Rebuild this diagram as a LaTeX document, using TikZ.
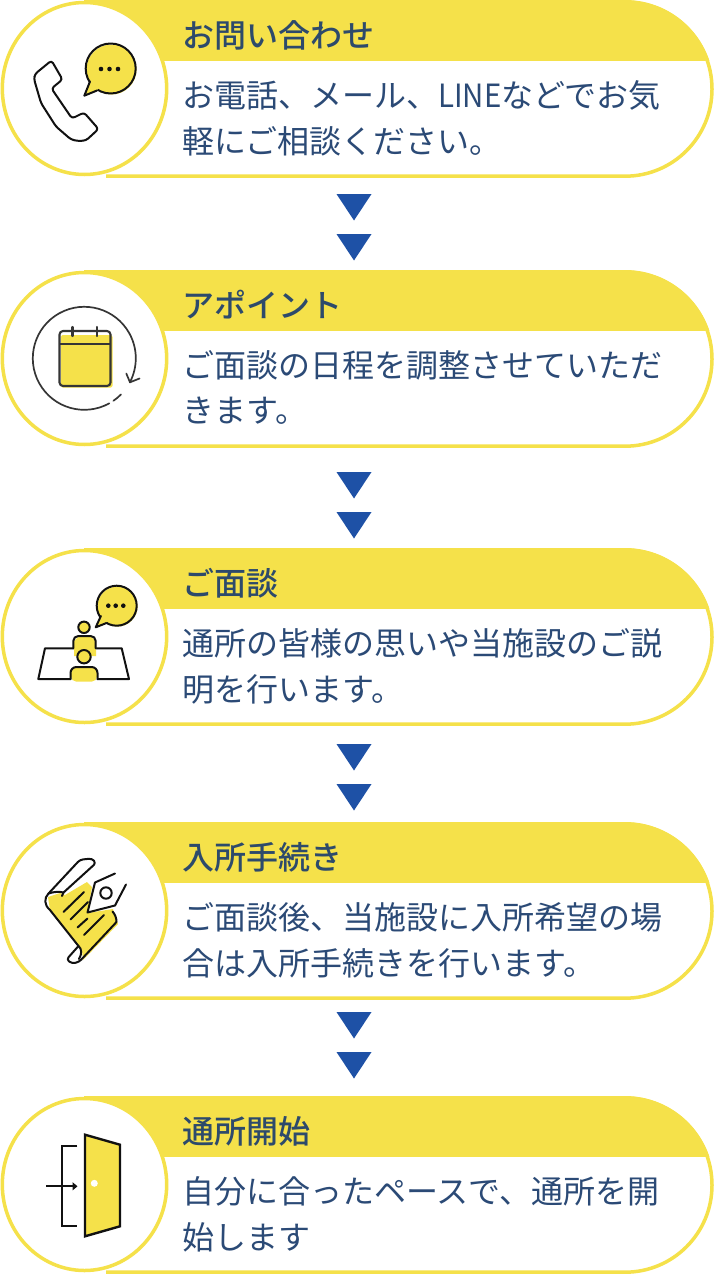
\documentclass[tikz,border=0pt]{standalone}
\usepackage{fontspec}
\setmainfont{Noto Sans CJK JP}
\newfontfamily\headfont{Noto Sans CJK JP Medium}
\usetikzlibrary{arrows.meta}
\definecolor{cardyellow}{HTML}{F5E14A}
\definecolor{cardtext}{HTML}{2B4A76}
\definecolor{headtext}{HTML}{2D4A6B}
\definecolor{arrowblue}{HTML}{1E51A6}
\definecolor{iconink}{HTML}{111111}
\tikzset{
    cardline/.style={draw=cardyellow,line width=3.5pt},
    icon/.style={draw=iconink,line width=2pt,line join=round,line cap=round},
    calicon/.style={icon,draw=iconink!85,line width=2.1pt},
    headtitle/.style={anchor=west,inner sep=0pt,text=headtext,font=\fontsize{32}{36}\selectfont\headfont},
    bodyline/.style={anchor=west,inner sep=0pt,text=cardtext,font=\fontsize{32}{38}\selectfont},
    dot/.style={fill=iconink,circle,inner sep=0pt,minimum size=4.6pt}
}
\newcommand{\flowcard}[5]{%
    \begin{scope}[shift={(0,#1)}]
        \filldraw[fill=white,cardline,rounded corners=87pt] (106,2) -- (712,2) -- (712,176.2) -- (106,176.2);
        \begin{scope}
            \clip (0,0) rectangle (714,60);
            \fill[cardyellow,rounded corners=89pt] (84,0) -- (714,0) -- (714,178) -- (84,178);
        \end{scope}
        \filldraw[fill=white,cardline] (84.5,88.5) ellipse[x radius=82.2pt,y radius=86pt];
        \node[headtitle] (title#2) at (182,35) {#3};
        \node[bodyline] (first#2) at (182,95) {#4};
        \node[bodyline] (second#2) at (182,141) {#5};
    \end{scope}
}
\begin{document}
\begin{tikzpicture}[x=1pt,y=-1pt]
    \useasboundingbox (0,0) rectangle (714,1274);

    \flowcard{0}{1}{お問い合わせ}{お電話、メール、\scalebox{0.92}[1]{LINE}などでお気}{軽にご相談ください。}
    \flowcard{270}{2}{アポイント}{ご面談の日程を調整させていただ}{きます。}
    \flowcard{548}{3}{ご面談}{通所の皆様の思いや当施設のご説}{明を行います。}
    \flowcard{822}{4}{入所手続き}{ご面談後、当施設に入所希望の場}{合は入所手続きを行います。}
    \flowcard{1096}{5}{通所開始}{自分に合ったペースで、通所を開}{始します}

    \foreach \t in {194,234,472,512,744,784,1012,1052}
        \fill[arrowblue] (336.5,\t) -- (371.5,\t) -- (354,{\t+26.5}) -- cycle;

    % phone
    \begin{scope}
        \fill[cardyellow] (111.5,69.5) circle[radius=25pt];
        \draw[icon] (110.7,68.5) circle[radius=25pt];
        \fill[cardyellow] (90.5,81) -- (84.3,95.7) -- (97,90.5) -- (105,75) -- cycle;
        \draw[icon] (90,81.5) -- (84.3,95.7) -- (97,90.5);
        \node[dot] (dot1a) at (101,69) {};
        \node[dot] (dot1b) at (109.5,69) {};
        \node[dot] (dot1c) at (118,69) {};
        \draw[icon,rounded corners=3pt] (51.5,60.5) -- (62.5,79.5) -- (51.5,88.5) -- (72,118.5) -- (84,112.5) -- (98.5,129) -- (86,140.5) -- (78,141) -- (71,139.5) -- (56,126.5) -- (41,103) -- (34,79) -- (35,74) -- cycle;
    \end{scope}

    % calendar
    \begin{scope}[shift={(0,270)}]
        \fill[cardyellow,rounded corners=2pt] (61,65) -- (112.5,65) -- (112.5,117.5) -- (61,117.5) -- cycle;
        \draw[calicon,rounded corners=3.5pt] (59.5,61) rectangle (110.5,116);
        \draw[calicon,line cap=butt] (59.5,74) -- (110.5,74);
        \draw[calicon] (72.5,57) -- (72.5,66);
        \draw[calicon] (97,57) -- (97,66);
        \draw[calicon,line width=1.7pt] (84.3,88.3) ++(-61:51.5pt) arc[start angle=-61,end angle=-388,radius=51.5pt];
        \draw[calicon,line width=1.7pt] (84.3,88.3) ++(-55.6:51.5pt) arc[start angle=-55.6,end angle=-44.5,radius=51.5pt];
        \draw[calicon,line width=1.7pt] (126.3,103.5) -- (130,112.3) -- (139.5,108.5);
    \end{scope}

    % meeting
    \begin{scope}[shift={(0,548)}]
        \fill[cardyellow] (117.5,58.5) circle[radius=20pt];
        \draw[icon] (116.7,57.7) circle[radius=20pt];
        \fill[cardyellow] (101.3,66.5) -- (95.7,79.3) -- (106.5,75) -- (112,65) -- cycle;
        \draw[icon] (100.9,68) -- (95.7,79.3) -- (106.5,75);
        \node[dot] (dot3a) at (108.3,57.7) {};
        \node[dot] (dot3b) at (115.7,57.7) {};
        \node[dot] (dot3c) at (123.3,57.7) {};
        \draw[icon] (73.3,100.3) -- (45,100.3) -- (38.3,131) -- (70.5,131);
        \draw[icon] (95.7,100.3) -- (121.7,100.3) -- (129,131) -- (97.5,131);
        \fill[cardyellow] (74,100) -- (74,93) -- (79,88) -- (90,88) -- (96,93) -- (96,108) -- (74,108) -- cycle;
        \draw[icon,rounded corners=5pt] (73.3,100.3) -- (73.3,88) -- (95.7,88) -- (95.7,100.3);
        \filldraw[icon,fill=cardyellow] (84,79.3) circle[radius=5.7pt];
        \filldraw[icon,fill=cardyellow] (84,108.7) circle[radius=6.7pt];
        \fill[cardyellow,rounded corners=5pt] (71,133.5) -- (71,119) -- (97,119) -- (97,133.5) -- cycle;
        \draw[icon,rounded corners=6pt] (70.5,131) -- (70.5,119) -- (97.5,119) -- (97.5,131);
    \end{scope}

    % document
    \begin{scope}[shift={(0,822)}]
        \fill[cardyellow] (48,75) -- (60,71) -- (65,73) -- (87,60) -- (92,65) -- (87.5,91) -- (113,87) -- (118,102) -- (83,138) -- (82,128) -- (50,88) -- cycle;
        \draw[icon,rounded corners=3pt] (48.5,71.5) -- (80,37.7) -- (92,36.5) -- (96,41) -- (63.5,70.5);
        \draw[icon] (48.5,71.5) .. controls (54,69.5) and (60,69.5) .. (63.5,70.5) -- (62,74);
        \draw[icon] (48.5,71.5) .. controls (44,76) and (44,83) .. (50,88) -- (78.5,124);
        \draw[icon] (78.5,124) .. controls (82,127) and (82,132) .. (79,137);
        \draw[icon,rounded corners=3pt] (78.5,124) -- (66.5,137.5) -- (72,141.5) -- (79,140) -- (116.5,100);
        \draw[icon] (116.5,100) .. controls (116.5,96) and (115,92) .. (112.5,89.5);
        \draw[icon] (63.5,90) -- (84,70);
        \draw[icon] (70.5,97.5) -- (88,80);
        \draw[icon] (77.5,105.5) -- (87.5,96.5);
        \draw[icon] (84,113) -- (104,93);
        \draw[icon] (115,51.5) -- (95,60.5) -- (87.5,90.5) -- (115,83.5) -- (126,62.5);
        \draw[icon] (106,71) circle[radius=5.7pt];
    \end{scope}

    % door
    \begin{scope}[shift={(0,1096)}]
        \filldraw[icon,fill=cardyellow,line width=2.4pt,line join=miter] (85,38.7) -- (120,48.7) -- (120,130.3) -- (85,140.3) -- cycle;
        \fill[white] (94.3,87.3) circle[radius=3.5pt];
        \draw[icon,line cap=butt,line width=2.2pt,line join=miter] (77.3,50.3) -- (62,50.3) -- (62,129.7) -- (77.3,129.7);
        \draw[icon,line cap=butt,line width=2.2pt,-{Triangle[length=5pt,width=8pt]}] (46,90.3) -- (77.5,90.3);
    \end{scope}
\end{tikzpicture}
\end{document}
